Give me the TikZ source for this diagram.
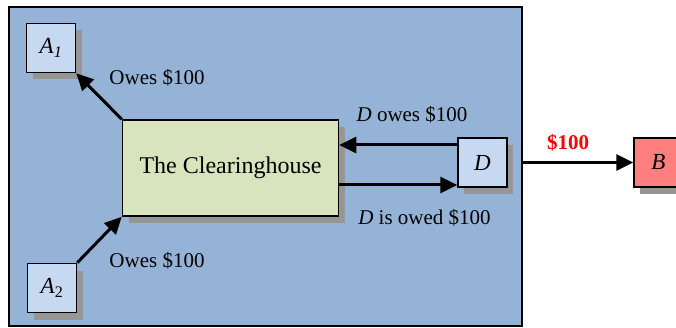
\documentclass[tikz,border=0pt]{standalone}
\usepackage{fontspec}
\setmainfont{Liberation Serif}
\usetikzlibrary{arrows.meta,shadows}
\definecolor{bgblue}{HTML}{95B3D7}
\definecolor{boxblue}{HTML}{C6D9F1}
\definecolor{chgreen}{HTML}{D7E4BD}
\definecolor{bred}{HTML}{FF7F7F}
\definecolor{shade}{HTML}{969696}
\tikzset{
  sbox/.style={draw=black, line width=1.5pt, rectangle, inner sep=0pt,
    minimum width=49pt, minimum height=49pt,
    drop shadow={shadow xshift=6pt, shadow yshift=-7pt, fill=shade, opacity=1},
    font=\fontsize{23}{26}\selectfont\itshape},
  lbl/.style={font=\fontsize{21}{24}\selectfont, inner sep=0pt},
  arr/.style={line width=3pt, -{Triangle[length=17pt,width=16pt]}},
}
\begin{document}
\begin{tikzpicture}[x=1pt,y=-1pt]
\useasboundingbox (0,0) rectangle (676,328);
\clip (0,0) rectangle (676,328);
\node[draw=black, line width=1.5pt, fill=bgblue, rectangle, inner sep=0pt,
  minimum width=513pt, minimum height=319pt] (frame) at (265.5,166.5) {};
\node[sbox, fill=chgreen, minimum width=216pt, minimum height=96pt,
  font=\fontsize{24}{28}\selectfont] (ch) at (230.5,168) {The Clearinghouse};
\node[sbox, fill=boxblue] (A1) at (51,48) {A\textsubscript{1}};
\node[sbox, fill=boxblue] (A2) at (52,288) {A\textsubscript{\upshape 2}};
\node[sbox, fill=boxblue] (D) at (482.5,162.5) {D};
\node[sbox, fill=bred] (B) at (658.5,162.5) {B};
\coordinate (dout) at (frame.east |- D.center);
\draw[arr] (ch.north west) -- (A1.south east);
\draw[arr] (A2.north east) -- (ch.south west);
\draw[arr] ([yshift=17.5pt]D.west) -- ([yshift=23pt]ch.east);
\draw[arr] ([yshift=-17pt]ch.east) -- ([yshift=-22.5pt]D.west);
\draw[arr] (dout) -- (B.west);
\node[lbl] (l1) at (157,78) {Owes \$100};
\node[lbl] (l2) at (157,261) {Owes \$100};
\node[lbl] (l3) at (412,115) {\textit{D} owes \$100};
\node[lbl] (l4) at (424.5,218) {\textit{D} is owed \$100};
\node[lbl, text=red, font=\fontsize{21}{24}\selectfont\bfseries] (l5) at (568,143) {\$100};
\end{tikzpicture}
\end{document}
